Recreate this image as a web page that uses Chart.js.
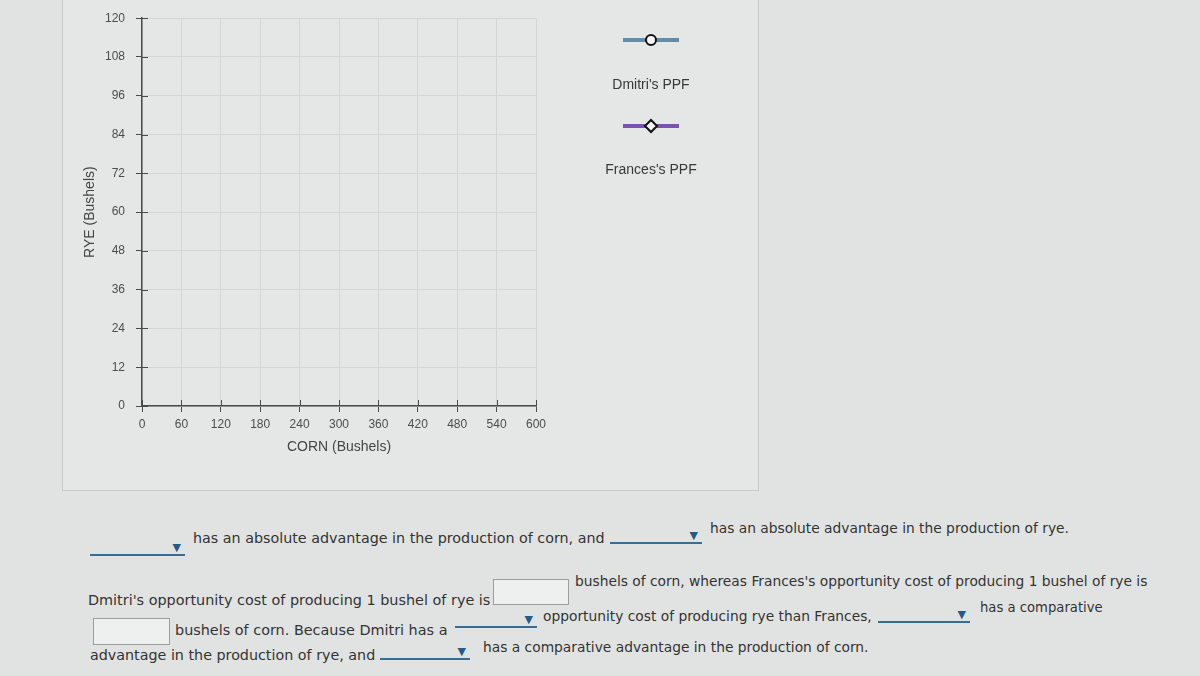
<!DOCTYPE html>
<html>
<head>
<meta charset="utf-8">
<script src="https://cdn.jsdelivr.net/npm/chart.js@4.4.1/dist/chart.umd.min.js"></script>
<style>
  html, body { margin: 0; padding: 0; }
  body { width: 1200px; height: 676px; background: #e1e3e3; position: relative; overflow: hidden;
         font-family: "DejaVu Sans", Verdana, sans-serif; color: #333; }
  #panel { position: absolute; left: 62px; top: -2px; width: 695px; height: 491px;
           border: 1px solid #c6caca; background: #e5e7e7; }
  #wrap { position: absolute; left: 60px; top: 0; width: 697px; height: 490px; }
  .t { position: absolute; font-size: 14px; white-space: nowrap; line-height: 16px; }
  .blank { position: absolute; border-bottom: 2px solid #3a6d96; }
  .blank span { position: absolute; right: 4px; bottom: 0px; font-size: 11px; color: #245a8c; line-height: 12px; }
  .box { position: absolute; border: 1px solid #9a9e9e; background: #eef0f0; }
</style>
</head>
<body>
<div id="panel"></div>
<div id="wrap"><canvas id="c" width="697" height="490"></canvas></div>

<div class="blank" style="left:90px;top:540px;width:95px;height:14px;"><span>&#9660;</span></div>
<div class="t" style="left:193px;top:530px;font-size:14.3px;">has an absolute advantage in the production of corn, and</div>
<div class="blank" style="left:610px;top:528px;width:92px;height:14px;"><span>&#9660;</span></div>
<div class="t" style="left:710px;top:520px;font-size:13.8px;">has an absolute advantage in the production of rye.</div>

<div class="t" style="left:88px;top:592px;font-size:14.4px;">Dmitri's opportunity cost of producing 1 bushel of rye is</div>
<div class="box" style="left:493px;top:579px;width:74px;height:24px;"></div>
<div class="t" style="left:575px;top:573px;font-size:13.8px;">bushels of corn, whereas Frances's opportunity cost of producing 1 bushel of rye is</div>

<div class="box" style="left:93px;top:618px;width:75px;height:25px;"></div>
<div class="t" style="left:175px;top:622px;font-size:14.4px;">bushels of corn. Because Dmitri has a</div>
<div class="blank" style="left:455px;top:612px;width:82px;height:14px;"><span>&#9660;</span></div>
<div class="t" style="left:543px;top:608px;font-size:13.8px;">opportunity cost of producing rye than Frances,</div>
<div class="blank" style="left:878px;top:608px;width:92px;height:13px;"><span>&#9660;</span></div>
<div class="t" style="left:980px;top:600px;font-size:13.2px;">has a comparative</div>

<div class="t" style="left:90px;top:647px;font-size:14.3px;">advantage in the production of rye, and</div>
<div class="blank" style="left:380px;top:643px;width:90px;height:15px;"><span>&#9660;</span></div>
<div class="t" style="left:483px;top:639px;font-size:13.8px;">has a comparative advantage in the production of corn.</div>

<script>
// ---- data (the graph is blank: no points have been plotted yet) ----
const seriesNames = ["Dmitri's PPF", "Frances's PPF"];
const dmitriCorn = [];
const dmitriRye = [];
const francesCorn = [];
const francesRye = [];
const cornTicks = [0, 60, 120, 180, 240, 300, 360, 420, 480, 540, 600];
const ryeTicks = [0, 12, 24, 36, 48, 60, 72, 84, 96, 108, 120];

const toPoints = (xs, ys) => xs.map((x, i) => ({ x: x, y: ys[i] }));

const innerTicks = {
  id: 'innerTicks',
  afterDraw(chart) {
    const ctx = chart.ctx, a = chart.chartArea;
    const xs = chart.scales.x, ys = chart.scales.y;
    ctx.save();
    ctx.strokeStyle = '#4a4a4a';
    ctx.lineWidth = 1;
    ctx.beginPath();
    ryeTicks.forEach(v => { const p = Math.round(ys.getPixelForValue(v)) + 0.5; ctx.moveTo(a.left, p); ctx.lineTo(a.left + 6, p); });
    cornTicks.forEach(v => { const p = Math.round(xs.getPixelForValue(v)) + 0.5; ctx.moveTo(p, a.bottom); ctx.lineTo(p, a.bottom - 6); });
    ctx.stroke();
    ctx.restore();
  }
};

const sideLegend = {
  id: 'sideLegend',
  afterDraw(chart) {
    const ctx = chart.ctx, a = chart.chartArea;
    const cx = a.right + 115;
    const rows = [{ y: 40, ty: 85 }, { y: 126, ty: 170 }];
    ctx.save();
    chart.data.datasets.forEach((ds, i) => {
      const r = rows[i];
      ctx.strokeStyle = ds.borderColor;
      ctx.lineWidth = 4;
      ctx.beginPath(); ctx.moveTo(cx - 28, r.y); ctx.lineTo(cx + 28, r.y); ctx.stroke();
      ctx.fillStyle = '#f4f5f5';
      ctx.strokeStyle = '#111';
      ctx.lineWidth = 2;
      ctx.beginPath();
      if (ds.pointStyle === 'circle') {
        ctx.arc(cx, r.y, 5, 0, Math.PI * 2);
      } else {
        ctx.moveTo(cx, r.y - 6); ctx.lineTo(cx + 6, r.y); ctx.lineTo(cx, r.y + 6); ctx.lineTo(cx - 6, r.y); ctx.closePath();
      }
      ctx.fill(); ctx.stroke();
      ctx.fillStyle = '#383838';
      ctx.font = '14px "Liberation Sans", Arial, sans-serif';
      ctx.textAlign = 'center';
      ctx.textBaseline = 'middle';
      ctx.fillText(ds.label, cx, r.ty);
    });
    ctx.restore();
  }
};

const tickFont = { family: '"Liberation Sans", Arial, sans-serif', size: 12 };
const titleFont = { family: '"Liberation Sans", Arial, sans-serif', size: 14 };

new Chart(document.getElementById('c'), {
  type: 'line',
  data: {
    datasets: [
      { label: seriesNames[0], data: toPoints(dmitriCorn, dmitriRye), borderColor: '#648ca6', backgroundColor: '#648ca6', pointStyle: 'circle', borderWidth: 3 },
      { label: seriesNames[1], data: toPoints(francesCorn, francesRye), borderColor: '#7a52b0', backgroundColor: '#7a52b0', pointStyle: 'rectRot', borderWidth: 3 }
    ]
  },
  options: {
    responsive: false,
    animation: false,
    layout: { padding: { left: 20, top: 18, right: 221, bottom: 34 } },
    plugins: { legend: { display: false }, tooltip: { enabled: false } },
    scales: {
      x: {
        type: 'linear', min: 0, max: 600,
        afterBuildTicks: s => { s.ticks = cornTicks.map(v => ({ value: v })); },
        afterFit: s => { s.height = 50; },
        ticks: { color: '#4c4c4c', font: tickFont, padding: 5, maxRotation: 0 },
        grid: { color: '#d2d6d6', tickLength: 6, tickColor: '#4a4a4a' },
        border: { color: '#4a4a4a', width: 1.5 },
        title: { display: true, text: 'CORN (Bushels)', color: '#454545', font: titleFont, padding: { top: 2, bottom: 0 } }
      },
      y: {
        type: 'linear', min: 0, max: 120,
        afterBuildTicks: s => { s.ticks = ryeTicks.map(v => ({ value: v })); },
        afterFit: s => { s.width = 62; },
        ticks: { color: '#4c4c4c', font: tickFont, padding: 11 },
        grid: { color: '#d2d6d6', tickLength: 6, tickColor: '#4a4a4a' },
        border: { color: '#4a4a4a', width: 1.5 },
        title: { display: true, text: 'RYE (Bushels)', color: '#454545', font: titleFont, padding: { top: 2, bottom: 0 } }
      }
    }
  },
  plugins: [innerTicks, sideLegend]
});
</script>
</body>
</html>
